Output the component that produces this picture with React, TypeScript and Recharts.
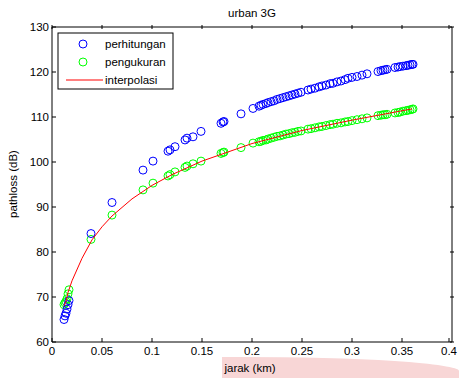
import {
  ScatterChart,
  Scatter,
  XAxis,
  YAxis,
} from "recharts";

// jarak (km) for every measurement point
const distances = [
  0.012, 0.013, 0.014, 0.015, 0.016, 0.017,
  0.039, 0.06, 0.091, 0.101, 0.116, 0.118, 0.123, 0.133, 0.135, 0.141, 0.149,
  0.169, 0.171, 0.172, 0.189, 0.201,
  0.207, 0.209, 0.211, 0.214, 0.216, 0.219, 0.222, 0.225, 0.228, 0.231, 0.234,
  0.237, 0.24, 0.243, 0.246, 0.249,
  0.256, 0.259, 0.263, 0.267, 0.27, 0.274, 0.278, 0.281, 0.285, 0.289, 0.293,
  0.296, 0.3, 0.305, 0.31, 0.315,
  0.326, 0.329, 0.331, 0.333, 0.335, 0.343, 0.346, 0.348, 0.351, 0.354, 0.356,
  0.358, 0.36, 0.361,
];

// pathloss perhitungan (dB)
const perhitungan = [
  65.0, 65.8, 66.4, 67.3, 68.3, 69.2,
  84.1, 91.0, 98.2, 100.2, 102.4, 102.7, 103.4, 104.9, 105.3, 105.6, 106.8,
  108.6, 108.9, 109.0, 110.7, 111.9,
  112.4, 112.6, 112.8, 113.0, 113.2, 113.4, 113.6, 113.9, 114.1, 114.3, 114.5,
  114.7, 114.9, 115.1, 115.3, 115.5,
  116.0, 116.2, 116.4, 116.7, 116.9, 117.1, 117.4, 117.5, 117.8, 118.0, 118.3,
  118.6, 118.8, 119.0, 119.3, 119.6,
  120.1, 120.3, 120.4, 120.5, 120.6, 121.0, 121.1, 121.2, 121.3, 121.4, 121.5,
  121.6, 121.7, 121.7,
];

// pathloss pengukuran (dB)
const pengukuran = [
  68.3, 68.7, 69.0, 69.6, 70.7, 71.6,
  82.8, 88.2, 93.8, 95.3, 96.9, 97.2, 97.8, 98.8, 99.1, 99.6, 100.2,
  101.9, 102.1, 102.2, 103.2, 104.2,
  104.5, 104.6, 104.8, 104.9, 105.1, 105.3, 105.5, 105.7, 105.8, 106.0, 106.2,
  106.3, 106.5, 106.6, 106.8, 106.9,
  107.3, 107.4, 107.6, 107.8, 107.9, 108.1, 108.3, 108.4, 108.6, 108.7, 108.9,
  109.0, 109.2, 109.4, 109.6, 109.8,
  110.3, 110.4, 110.5, 110.5, 110.6, 110.9, 111.0, 111.1, 111.3, 111.4, 111.5,
  111.6, 111.7, 111.8,
];

// interpolasi curve
const interpX = [0.012, 0.014, 0.016, 0.02, 0.03, 0.04, 0.05, 0.06, 0.08, 0.1, 0.12, 0.15, 0.2, 0.25, 0.3, 0.36];
const interpY = [68.0, 69.0, 71.0, 73.6, 78.6, 82.7, 85.6, 88.0, 91.8, 94.8, 97.2, 100.2, 104.1, 107.0, 109.3, 111.8];

const xTicks = [0, 0.05, 0.1, 0.15, 0.2, 0.25, 0.3, 0.35, 0.4];
const yTicks = [60, 70, 80, 90, 100, 110, 120, 130];

const FONT = '"Liberation Sans", Arial, sans-serif';
const FS = 11.5;

const blueData = distances.map((d, i) => ({ x: d, y: perhitungan[i] }));
const greenData = distances.map((d, i) => ({ x: d, y: pengukuran[i] }));
const redData = interpX.map((d, i) => ({ x: d, y: interpY[i] }));

const ring = (color: string) => (p: any) =>
  <circle cx={p.cx} cy={p.cy} r={4} fill="none" stroke={color} strokeWidth={1} />;

const BottomTick = (p: any) => (
  <g>
    <line x1={p.x} y1={p.y} x2={p.x} y2={p.y - 4} stroke="#000" />
    <text x={p.x} y={p.y + 13} textAnchor="middle" fontSize={FS} fontFamily={FONT} fill="#000">
      {String(p.payload.value)}
    </text>
  </g>
);
const TopTick = (p: any) => (
  <line x1={p.x} y1={p.y} x2={p.x} y2={p.y + 4} stroke="#000" />
);
const LeftTick = (p: any) => (
  <g>
    <line x1={p.x} y1={p.y} x2={p.x + 4} y2={p.y} stroke="#000" />
    <text x={p.x - 3} y={p.y + 4} textAnchor="end" fontSize={FS} fontFamily={FONT} fill="#000">
      {p.payload.value}
    </text>
  </g>
);
const RightTick = (p: any) => (
  <line x1={p.x} y1={p.y} x2={p.x - 4} y2={p.y} stroke="#000" />
);

export default function App() {
  return (
    <div style={{ position: "relative", width: 459, height: 378, background: "#fff" }}>
      <style>{`body{margin:0}`}</style>
      {/* pink smudge under the x label */}
      <div
        style={{
          position: "absolute",
          left: 222,
          top: 357,
          width: 237,
          height: 21,
          background: "#f8d6d6",
          borderTopRightRadius: "220px 14px",
        }}
      />
      <div style={{ position: "absolute", left: 0, top: 0 }}>
        <ScatterChart width={459} height={378} margin={{ top: 26, right: 6, bottom: 35, left: 51 }}>
          <XAxis
            type="number"
            dataKey="x"
            domain={[0, 0.4]}
            ticks={xTicks}
            height={1}
            tickSize={0}
            tickMargin={0}
            tick={BottomTick}
            axisLine={{ stroke: "#000" }}
            tickLine={false}
            allowDataOverflow
          />
          <XAxis
            xAxisId="top"
            orientation="top"
            type="number"
            dataKey="x"
            domain={[0, 0.4]}
            ticks={xTicks}
            height={1}
            tickSize={0}
            tick={TopTick}
            axisLine={{ stroke: "#000" }}
            tickLine={false}
            allowDataOverflow
          />
          <YAxis
            type="number"
            dataKey="y"
            domain={[60, 130]}
            ticks={yTicks}
            width={1}
            tickSize={0}
            tickMargin={0}
            tick={LeftTick}
            axisLine={{ stroke: "#000" }}
            tickLine={false}
            allowDataOverflow
          />
          <YAxis
            yAxisId="right"
            orientation="right"
            type="number"
            dataKey="y"
            domain={[60, 130]}
            ticks={yTicks}
            width={1}
            tickSize={0}
            tick={RightTick}
            axisLine={{ stroke: "#000" }}
            tickLine={false}
            allowDataOverflow
          />
          <Scatter data={greenData} shape={ring("#00ff00")} isAnimationActive={false} />
          <Scatter data={blueData} shape={ring("#0000ff")} isAnimationActive={false} />
          <Scatter
            data={redData}
            line={{ stroke: "#ff0000", strokeWidth: 1 }}
            lineType="joint"
            shape={() => <g />}
            isAnimationActive={false}
          />
          <text x={252} y={17} textAnchor="middle" fontSize={FS} fontFamily={FONT} fill="#000">
            urban 3G
          </text>
          <text x={250} y={372} textAnchor="middle" fontSize={FS} fontFamily={FONT} fill="#000">
            jarak (km)
          </text>
          <text
            x={0}
            y={0}
            transform="translate(17,184) rotate(-90)"
            textAnchor="middle"
            fontSize={FS}
            fontFamily={FONT}
            fill="#000"
          >
            pathloss (dB)
          </text>
        </ScatterChart>
      </div>
      {/* legend box */}
      <svg
        width={117}
        height={58}
        style={{ position: "absolute", left: 57, top: 32 }}
      >
        <rect x={1} y={1} width={115} height={56} fill="#fff" stroke="#000" strokeWidth={1} />
        <circle cx={26} cy={12} r={4} fill="none" stroke="#0000ff" />
        <text x={48} y={16} fontSize={FS} fontFamily={FONT} fill="#000">perhitungan</text>
        <circle cx={26} cy={30} r={4} fill="none" stroke="#00ff00" />
        <text x={48} y={34} fontSize={FS} fontFamily={FONT} fill="#000">pengukuran</text>
        <line x1={9} y1={48} x2={46} y2={48} stroke="#ff0000" strokeWidth={1} />
        <text x={48} y={52} fontSize={FS} fontFamily={FONT} fill="#000">interpolasi</text>
      </svg>
    </div>
  );
}
